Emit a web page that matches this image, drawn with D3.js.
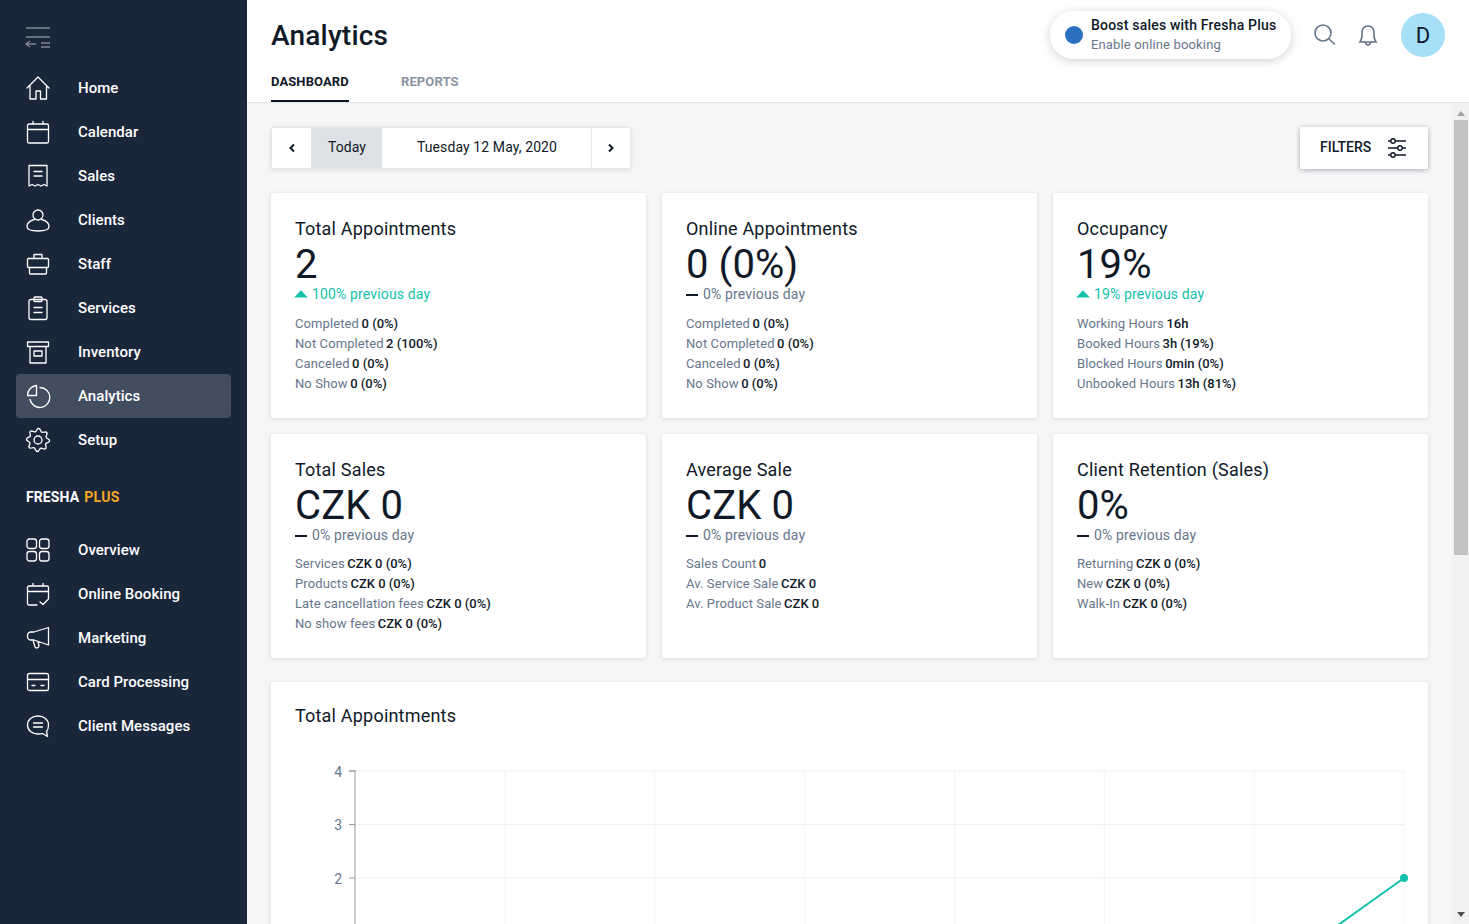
<!DOCTYPE html>
<html>
<head>
<meta charset="utf-8">
<title>Analytics</title>
<script src="https://cdn.jsdelivr.net/npm/d3@7"></script>
<style>
html, body { margin: 0; padding: 0; overflow: hidden; background: #f6f6f7; }
text { font-family: Roboto, sans-serif; }
.icon { fill: none; stroke: #fff; stroke-width: 1.3; stroke-linejoin: round; stroke-linecap: round; }
</style>
</head>
<body>
<div id="main"></div>
<script>
const ctx = { w: 1469, h: 924 };

// sidebar
const navTop = ["Home", "Calendar", "Sales", "Clients", "Staff", "Services", "Inventory", "Analytics", "Setup"];
const navPlus = ["Overview", "Online Booking", "Marketing", "Card Processing", "Client Messages"];

// summary cards
const cardTitles = ["Total Appointments", "Online Appointments", "Occupancy", "Total Sales", "Average Sale", "Client Retention (Sales)"];
const cardValues = ["2", "0 (0%)", "19%", "CZK 0", "CZK 0", "0%"];
const cardDeltas = ["100% previous day", "0% previous day", "19% previous day", "0% previous day", "0% previous day", "0% previous day"];
const cardTrends = ["up", "flat", "up", "flat", "flat", "flat"];
const cardDetails = [
    [["Completed", "0 (0%)"], ["Not Completed", "2 (100%)"], ["Canceled", "0 (0%)"], ["No Show", "0 (0%)"]],
    [["Completed", "0 (0%)"], ["Not Completed", "0 (0%)"], ["Canceled", "0 (0%)"], ["No Show", "0 (0%)"]],
    [["Working Hours", "16h"], ["Booked Hours", "3h (19%)"], ["Blocked Hours", "0min (0%)"], ["Unbooked Hours", "13h (81%)"]],
    [["Services", "CZK 0 (0%)"], ["Products", "CZK 0 (0%)"], ["Late cancellation fees", "CZK 0 (0%)"], ["No show fees", "CZK 0 (0%)"]],
    [["Sales Count", "0"], ["Av. Service Sale", "CZK 0"], ["Av. Product Sale", "CZK 0"]],
    [["Returning", "CZK 0 (0%)"], ["New", "CZK 0 (0%)"], ["Walk-In", "CZK 0 (0%)"]]
];

// line chart (x labels sit below the visible part of the page)
const chartSteps = [0, 1, 2, 3, 4, 5, 6, 7];
const chartValues = [0, 0, 0, 0, 0, 0, 0, 2];
const chartTicks = [0, 1, 2, 3, 4];

const icons = {
    Home: '<path d="M1 12 L12 1 L23 12 M4 9.5 V23 H10 V15 H14.5 V23 H20.5 V9.5"/>',
    Calendar: '<rect x="1.5" y="4" width="21" height="19" rx="1.5"/><path d="M1.5 9.5H22.5M7 1.5V4M17 1.5V4"/>',
    Sales: '<path d="M3 1.5H21V22l-3-1.5-3 1.5-3-1.5-3 1.5-3-1.5-3 1.5Z M8 7.5H16M8 12H16"/>',
    Clients: '<circle cx="12" cy="7" r="5"/><path d="M8.5 11.5C3 13 1 16 1 18.5 1 21.5 6 23 12 23s11-1.5 11-4.5C23 16 21 13 15.5 11.5"/>',
    Staff: '<rect x="1.5" y="6.5" width="21" height="9" rx="1"/><path d="M3.5 15.5V21a1 1 0 0 0 1 1H19.5a1 1 0 0 0 1-1V15.5M8 6.5V2.5H16V6.5"/>',
    Services: '<rect x="3" y="3.5" width="18" height="20" rx="2"/><rect x="8" y="1" width="8" height="4.5" rx="1"/><path d="M8 11.5H16M8 16.5H16"/>',
    Inventory: '<rect x="1.5" y="2" width="21" height="4.5"/><path d="M4 6.5V23H20V6.5"/><rect x="8" y="11" width="8" height="5"/>',
    Analytics: '<path d="M10.5 1.5A10 10 0 0 0 1.5 11.5H10.5Z"/><path d="M14 3.5A10 10 0 1 1 4 15.5"/>',
    Overview: '<rect x="1" y="1" width="9.5" height="9.5" rx="2.5"/><rect x="13.5" y="1" width="9.5" height="9.5" rx="2.5"/><rect x="1" y="13.5" width="9.5" height="9.5" rx="2.5"/><rect x="13.5" y="13.5" width="9.5" height="9.5" rx="2.5"/>',
    "Online Booking": '<path d="M11 23H3a1.5 1.5 0 0 1-1.5-1.5V5.5A1.5 1.5 0 0 1 3 4H21a1.5 1.5 0 0 1 1.5 1.5V17M1.5 9.5H22.5M7 1.5V4M17 1.5V4M14 20l3 2.5 5-5"/>',
    Marketing: '<path d="M22.5 1.5V19L8 14H5A3.5 3.5 0 0 1 1.5 10.5V9.5A3.5 3.5 0 0 1 5 6H8ZM7 14l2 7a2.2 2.2 0 0 0 4 -1l-1-4.3"/>',
    "Card Processing": '<rect x="1.5" y="3.5" width="21" height="17" rx="2"/><path d="M1.5 9.5H22.5M6 15.5H9M15 15.5H18"/>',
    "Client Messages": '<path d="M12 2C6 2 1.5 5.5 1.5 11S6 20 12 20c2 0 3 0 4.5 -.5L21.5 22.5 20.5 17.5C22 16 22.5 13.5 22.5 11 22.5 5.5 18 2 12 2ZM7.5 9H16.5M7.5 13H16.5"/>'
};

let svg;

let gearPath = function(){
    // eight teeth around the centre of a 24 box
    let pts = [];
    d3.range(48).forEach(i => {
        let a = (i / 48) * 2 * Math.PI;
        let phase = i % 6;
        let r = phase < 2 ? 11.5 : (phase === 2 || phase === 5 ? 10 : 8.7);
        pts.push([12 + r * Math.cos(a), 12 + r * Math.sin(a)]);
    });
    return d3.line().curve(d3.curveLinearClosed)(pts);
};

let drawIcon = function(name, x, y){
    let g = svg.append("g").attr("class", "icon").attr("transform", `translate(${x},${y})`);
    if (name === "Setup"){
        g.append("path").attr("d", gearPath());
        g.append("circle").attr("cx", 12).attr("cy", 12).attr("r", 4);
    } else {
        g.html(icons[name]);
    }
    return g;
};

let label = function(x, y, str, size, weight, color, spacing){
    return svg.append("text").attr("x", x).attr("y", y).text(str)
        .attr("font-size", size).attr("font-weight", weight).attr("fill", color)
        .attr("letter-spacing", spacing || 0);
};

let drawSidebar = function(){
    svg.append("rect").attr("width", 247).attr("height", ctx.h).attr("fill", "#1a263a");
    svg.append("rect").attr("x", 16).attr("y", 374).attr("width", 215).attr("height", 44).attr("rx", 4).attr("fill", "#424e60");

    let m = svg.append("g").attr("fill", "none").attr("stroke", "#7f8896").attr("stroke-width", 1.3);
    m.append("path").attr("d", "M26 28H50M26 37H50M41 43H50M41 47H50M26 44H36M30 41L26 44L30 47");

    navTop.forEach((name, i) => {
        let cy = 88 + i * 44;
        drawIcon(name, 26, cy - 12);
        label(78, cy + 5, name, 15, 500, "#fff", 0.05);
    });

    let plus = label(26, 502, "FRESHA", 14, 700, "#fff", 0.1);
    plus.append("tspan").attr("dx", 5).attr("fill", "#f5a623").attr("letter-spacing", 0.3).text("PLUS");

    navPlus.forEach((name, i) => {
        let cy = 550 + i * 44;
        drawIcon(name, 26, cy - 12);
        label(78, cy + 5, name, 15, 500, "#fff", 0.05);
    });
};

let drawHeader = function(){
    svg.append("rect").attr("x", 247).attr("width", ctx.w - 247).attr("height", 102).attr("fill", "#fff");
    svg.append("rect").attr("x", 247).attr("y", 102).attr("width", ctx.w - 247).attr("height", 1).attr("fill", "#dee3e7");
    label(271, 45, "Analytics", 28, 500, "#101928", 0.2);
    label(271, 86, "DASHBOARD", 13, 700, "#101928", 0.1);
    label(401, 86, "REPORTS", 13, 700, "#8b95a1", 0.1);
    svg.append("rect").attr("x", 271).attr("y", 100).attr("width", 78).attr("height", 2).attr("fill", "#101928");

    svg.append("rect").attr("x", 1050).attr("y", 11).attr("width", 241).attr("height", 48).attr("rx", 24)
        .attr("fill", "#fff").attr("filter", "url(#pillShadow)");
    svg.append("circle").attr("cx", 1074).attr("cy", 35).attr("r", 9).attr("fill", "#2a70bf");
    label(1091, 30, "Boost sales with Fresha Plus", 14, 500, "#101928", 0.2);
    label(1091, 49, "Enable online booking", 13, 400, "#67768c", 0.15);

    let gray = svg.append("g").attr("fill", "none").attr("stroke", "#67768c").attr("stroke-width", 1.6);
    gray.append("circle").attr("cx", 1323).attr("cy", 33).attr("r", 8);
    gray.append("path").attr("d", "M1329 39L1335 44.5");
    gray.append("path").attr("d", "M1360 42H1376C1373.5 39 1374 36 1374 33C1374 29 1372 26 1368 26C1364 26 1362 29 1362 33C1362 36 1362.5 39 1360 42ZM1365.5 42C1365.5 46 1370.5 46 1370.5 42");

    svg.append("circle").attr("cx", 1423).attr("cy", 35).attr("r", 22).attr("fill", "#a5dff8");
    label(1423, 43, "D", 22, 400, "#101928").attr("text-anchor", "middle");
};

let drawToolbar = function(){
    svg.append("rect").attr("x", 271.5).attr("y", 127.5).attr("width", 359).attr("height", 41).attr("rx", 2)
        .attr("fill", "#fff").attr("stroke", "#e4e7ea").attr("filter", "url(#cardShadow)");
    svg.append("rect").attr("x", 311).attr("y", 128).attr("width", 71).attr("height", 40).attr("fill", "#dee2e6");
    svg.append("rect").attr("x", 591).attr("y", 128).attr("width", 1).attr("height", 40).attr("fill", "#e4e7ea");
    label(347, 152, "Today", 14, 400, "#101928", 0.1).attr("text-anchor", "middle");
    label(487, 152, "Tuesday 12 May, 2020", 14, 400, "#101928", 0.1).attr("text-anchor", "middle");
    let arrows = svg.append("g").attr("fill", "none").attr("stroke", "#101928").attr("stroke-width", 2);
    arrows.append("path").attr("d", "M294 144.5L290.5 148L294 151.5");
    arrows.append("path").attr("d", "M609 144.5L612.5 148L609 151.5");

    svg.append("rect").attr("x", 1300).attr("y", 127).attr("width", 128).attr("height", 42).attr("rx", 2)
        .attr("fill", "#fff").attr("filter", "url(#btnShadow)");
    label(1320, 152, "FILTERS", 14, 500, "#101928", 0);
    let f = svg.append("g").attr("fill", "#fff").attr("stroke", "#101928").attr("stroke-width", 1.4);
    f.append("path").attr("d", "M1388 141H1406M1388 148H1406M1388 155H1406");
    f.append("circle").attr("cx", 1393).attr("cy", 141).attr("r", 2.2);
    f.append("circle").attr("cx", 1400).attr("cy", 148).attr("r", 2.2);
    f.append("circle").attr("cx", 1393).attr("cy", 155).attr("r", 2.2);
};

let drawCards = function(){
    const colX = [271, 662, 1053];
    const rowY = [193, 434];
    const rowH = [225, 224];
    cardTitles.forEach((title, i) => {
        let x = colX[i % 3], r = Math.floor(i / 3), y = rowY[r];
        svg.append("rect").attr("x", x).attr("y", y).attr("width", 375).attr("height", rowH[r]).attr("rx", 3)
            .attr("fill", "#fff").attr("filter", "url(#cardShadow)");
        label(x + 24, y + 42, title, 18, 400, "#101928", 0.2);
        label(x + 24, y + 85, cardValues[i], 40, 400, "#101928", 0.1);

        let up = cardTrends[i] === "up";
        if (up){
            svg.append("path").attr("d", d3.symbol(d3.symbolTriangle, 48)())
                .attr("transform", `translate(${x + 30},${y + 102}) scale(1.3,0.8)`).attr("fill", "#12c2ad");
        } else {
            svg.append("rect").attr("x", x + 24).attr("y", y + 101).attr("width", 12).attr("height", 2).attr("fill", "#101928");
        }
        label(x + 41, y + 106, cardDeltas[i], 14, 400, up ? "#12c2ad" : "#67768c", 0.15);

        cardDetails[i].forEach((row, k) => {
            let t = label(x + 24, y + 135 + k * 20 - r, row[0], 13, 400, "#67768c", 0.1);
            t.append("tspan").attr("dx", 2.5).attr("font-weight", 500).attr("fill", "#101928").attr("letter-spacing", 0).text(row[1]);
        });
    });
};

let drawChart = function(){
    svg.append("rect").attr("x", 271).attr("y", 682).attr("width", 1157).attr("height", 400).attr("rx", 3)
        .attr("fill", "#fff").attr("filter", "url(#cardShadow)");
    label(295, 722, "Total Appointments", 18, 400, "#101928", 0.2);

    let xScale = d3.scalePoint().domain(chartSteps).range([355, 1404]);
    let yScale = d3.scaleLinear().domain([0, 4]).range([985, 771]);

    svg.append("g").selectAll("line").data(chartTicks).join("line")
        .attr("x1", 355).attr("x2", 1404)
        .attr("y1", d => yScale(d)).attr("y2", d => yScale(d))
        .attr("stroke", "#f0f0f0");
    svg.append("g").selectAll("line").data(chartSteps).join("line")
        .attr("x1", d => xScale(d)).attr("x2", d => xScale(d))
        .attr("y1", 771).attr("y2", 985)
        .attr("stroke", "#f4f4f4");

    let axis = svg.append("g").attr("transform", "translate(355,0)")
        .call(d3.axisLeft(yScale).tickValues(chartTicks).tickFormat(d3.format("d")).tickSize(6).tickPadding(6).offset(0));
    axis.select(".domain").attr("stroke", "#cccccc").attr("stroke-width", 2);
    axis.selectAll(".tick line").attr("stroke", "#999");
    axis.selectAll(".tick text").attr("font-size", 14).attr("dy", "0.4em").attr("x", -13)
        .attr("font-family", "'Liberation Sans', Arial, sans-serif").attr("fill", "#67768c");
    // ticks below the fold have no visible label
    axis.selectAll(".tick text").filter(d => yScale(d) > ctx.h).remove();

    let line = d3.line().x((d, i) => xScale(chartSteps[i])).y(d => yScale(d));
    svg.append("path").datum(chartValues).attr("d", line)
        .attr("fill", "none").attr("stroke", "#12c2ad").attr("stroke-width", 2);
    svg.append("g").selectAll("circle").data(chartValues).join("circle")
        .attr("cx", (d, i) => xScale(chartSteps[i])).attr("cy", d => yScale(d)).attr("r", 4)
        .attr("fill", "#12c2ad");
};

let drawScrollbar = function(){
    svg.append("rect").attr("x", 1452).attr("y", 103).attr("width", 17).attr("height", ctx.h - 103).attr("fill", "#f1f1f1");
    svg.append("rect").attr("x", 1454).attr("y", 120).attr("width", 14).attr("height", 435).attr("fill", "#c1c1c1");
    svg.append("path").attr("d", "M1457 116L1461 111L1465 116Z").attr("fill", "#a3a3a3");
    svg.append("path").attr("d", "M1457 912L1461 917L1465 912Z").attr("fill", "#505050");
};

let createViz = function(){
    svg = d3.select("#main").append("svg").attr("width", ctx.w).attr("height", ctx.h).style("display", "block");
    let defs = svg.append("defs");
    [["cardShadow", 1, 2, 0.12], ["pillShadow", 2, 4, 0.22], ["btnShadow", 1, 2.5, 0.4]].forEach(s => {
        defs.append("filter").attr("id", s[0]).attr("x", "-10%").attr("y", "-10%").attr("width", "120%").attr("height", "130%")
            .append("feDropShadow").attr("dx", 0).attr("dy", s[1]).attr("stdDeviation", s[2])
            .attr("flood-color", "#29384f").attr("flood-opacity", s[3]);
    });
    svg.append("rect").attr("width", ctx.w).attr("height", ctx.h).attr("fill", "#f6f6f7");
    drawCards();
    drawChart();
    drawScrollbar();
    drawToolbar();
    drawHeader();
    drawSidebar();
};

createViz();
</script>
</body>
</html>
